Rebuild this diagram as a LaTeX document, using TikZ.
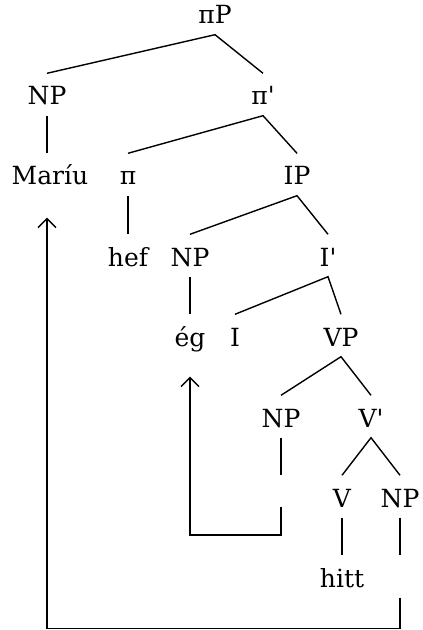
\documentclass[tikz,border=0pt]{standalone}
\usepackage{fontspec}
\setmainfont{DejaVu Serif}
\usetikzlibrary{arrows.meta}

\begin{document}
\begin{tikzpicture}[x=0.5pt, y=-0.5pt, line width=0.7pt,
    every node/.style={anchor=base, inner sep=0pt, text height=15.5pt, text depth=5pt, font=\fontsize{12.5}{14}\selectfont},
    trace/.style={-{Straight Barb[length=4.5pt, width=9pt]}}]
      \useasboundingbox (0,0) rectangle (422,630);

      \node (piP)   at (215,24)  {πP};
      \node (np1)   at (47,105)  {NP};
      \node (pibar) at (263,105) {π\textquotesingle};
      \node (mariu) at (50,185)  {Maríu};
      \node (pi)    at (128,185) {π};
      \node (ip)    at (297,185) {IP};
      \node (hef)   at (128,266) {hef};
      \node (np2)   at (190,266) {NP};
      \node (ibar)  at (328,266) {I\textquotesingle};
      \node (eg)    at (190,346) {ég};
      \node (i)     at (235,346) {I};
      \node (vp)    at (341,346) {VP};
      \node (np3)   at (281,427) {NP};
      \node (vbar)  at (371,427) {V\textquotesingle};
      \node (v)     at (342,507) {V};
      \node (np4)   at (400,507) {NP};
      \node (t1)    at (281,507) {};
      \node (hitt)  at (342,587) {hitt};
      \node (t2)    at (400,587) {};

      \draw (np1.north) -- (piP.south) -- (pibar.north);
      \draw (np1.south) -- (np1.south |- mariu.north);
      \draw (pi.north) -- (pibar.south) -- (ip.north);
      \draw (pi.south) -- (hef.north);
      \draw (np2.north) -- (ip.south) -- (ibar.north);
      \draw (np2.south) -- (eg.north);
      \draw (i.north) -- (ibar.south) -- (vp.north);
      \draw (np3.north) -- (vp.south) -- (vbar.north);
      \draw (np3.south) -- (t1.north);
      \draw (v.north) -- (vbar.south) -- (np4.north);
      \draw (v.south) -- (hitt.north);
      \draw (np4.south) -- (t2.north);

      \draw[trace] (t1.base) -- ++(0,28) -| ([yshift=-10pt]eg.south);
      \draw[trace] (t2.south) -- ++(0,31) -| ([yshift=-11pt]np1.south |- mariu.south);

    \end{tikzpicture}
\end{document}
